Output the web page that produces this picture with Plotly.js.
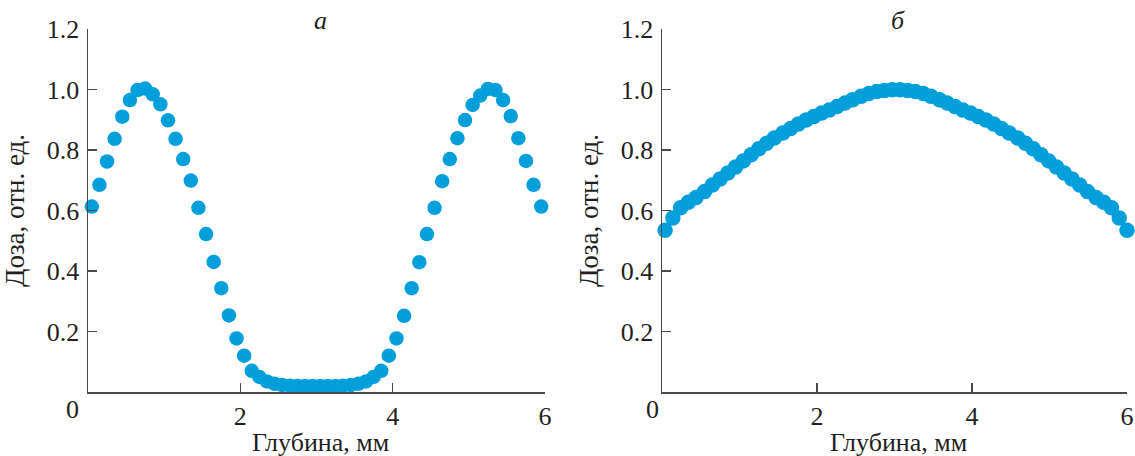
<!DOCTYPE html>
<html>
<head>
<meta charset="utf-8">
<script src="https://cdn.plot.ly/plotly-3.0.1.min.js"></script>
<style>html,body{margin:0;padding:0;background:#fff;}#chart{width:1135px;height:456px;}</style>
</head>
<body>
<div id="chart"></div>
<script>
// Panel "а": depth (mm) and relative dose
const depthA = [0.05,0.15,0.25,0.35,0.45,0.55,0.65,0.75,0.85,0.95,
  1.05,1.15,1.25,1.35,1.45,1.55,1.65,1.75,1.85,1.95,
  2.05,2.15,2.25,2.35,2.45,2.55,2.65,2.75,2.85,2.95,
  3.05,3.15,3.25,3.35,3.45,3.55,3.65,3.75,3.85,3.95,
  4.05,4.15,4.25,4.35,4.45,4.55,4.65,4.75,4.85,4.95,
  5.05,5.15,5.25,5.35,5.45,5.55,5.65,5.75,5.85,5.95];
const doseA = [0.613,0.685,0.762,0.837,0.910,0.965,0.998,1.003,0.984,0.951,
  0.898,0.837,0.770,0.699,0.609,0.522,0.430,0.343,0.253,0.177,
  0.120,0.070,0.050,0.035,0.027,0.023,0.021,0.020,0.020,0.020,
  0.020,0.020,0.020,0.021,0.023,0.027,0.035,0.050,0.070,0.120,
  0.177,0.252,0.343,0.429,0.522,0.609,0.697,0.770,0.839,0.899,
  0.949,0.980,1.002,0.998,0.965,0.912,0.839,0.764,0.685,0.613];

// Panel "б": depth (mm) and relative dose
const depthB = [0.04,0.14,0.24,0.34,0.44,0.55,0.65,0.75,0.85,0.95,
  1.05,1.15,1.25,1.35,1.45,1.56,1.66,1.76,1.86,1.96,
  2.06,2.16,2.26,2.36,2.46,2.57,2.67,2.77,2.87,2.97,
  3.07,3.17,3.27,3.37,3.47,3.58,3.68,3.78,3.88,3.98,
  4.08,4.18,4.28,4.38,4.48,4.59,4.69,4.79,4.89,4.99,
  5.09,5.19,5.29,5.39,5.49,5.60,5.70,5.80,5.90,6.00];
const doseB = [0.535,0.575,0.609,0.627,0.643,0.663,0.684,0.704,0.724,0.744,
  0.764,0.784,0.804,0.822,0.840,0.856,0.871,0.886,0.899,0.911,
  0.922,0.932,0.944,0.955,0.966,0.978,0.987,0.993,0.997,0.999,
  0.999,0.997,0.993,0.987,0.978,0.966,0.955,0.944,0.932,0.922,
  0.911,0.899,0.886,0.871,0.856,0.840,0.822,0.804,0.784,0.764,
  0.744,0.724,0.704,0.684,0.663,0.643,0.627,0.609,0.575,0.535];

const xTickVals = [2, 4, 6];
const xTickText = ['2', '4', '6'];
const yTickVals = [0.2, 0.4, 0.6, 0.8, 1.0, 1.2];
const yTickText = ['0.2', '0.4', '0.6', '0.8', '1.0', '1.2'];
const panelLabels = ['а', 'б'];
const xTitle = 'Глубина, мм';
const yTitle = 'Доза, отн. ед.';

const W = 1135, H = 456;
const dotColor = '#039fdb';
const fontFam = '"Liberation Serif", "DejaVu Serif", serif';
const textColor = '#231f20';
const axisColor = '#4a4a4a';
const FS = 26;
const FT = 26;

const traces = [
  {x: depthA, y: doseA, type: 'scatter', mode: 'markers', marker: {size: 14.5, color: dotColor, line: {width: 0}},
   xaxis: 'x', yaxis: 'y', cliponaxis: false, hoverinfo: 'x+y'},
  {x: depthB, y: doseB, type: 'scatter', mode: 'markers', marker: {size: 15.5, color: dotColor, line: {width: 0}},
   xaxis: 'x2', yaxis: 'y2', cliponaxis: false, hoverinfo: 'x+y'}
];

function xAx(d0, d1, anchor) {
  return {
    domain: [d0 / W, d1 / W], anchor: anchor, range: [0, 6],
    tickvals: xTickVals, ticktext: xTickText,
    ticks: 'inside', ticklen: 9, tickwidth: 1.5, tickcolor: axisColor,
    showline: true, linecolor: axisColor, linewidth: 1.5,
    showgrid: false, zeroline: false, ticklabelstandoff: 0,
    tickfont: {family: fontFam, size: FS, color: textColor}
  };
}
function yAx(anchor) {
  return {
    domain: [1 - 392 / H, 1 - 29 / H], anchor: anchor, range: [0, 1.2],
    tickvals: yTickVals, ticktext: yTickText,
    ticks: 'inside', ticklen: 9, tickwidth: 1.5, tickcolor: axisColor,
    showline: true, linecolor: axisColor, linewidth: 1.5,
    showgrid: false, zeroline: false, ticklabelstandoff: 2,
    tickfont: {family: fontFam, size: FS, color: textColor},
    title: {text: yTitle, font: {family: fontFam, size: 27, color: textColor}, standoff: 14}
  };
}

function txt(text, xref, x, yPix, size, extra) {
  return Object.assign({text: text, xref: xref, yref: 'paper', x: x, y: 1 - yPix / H, showarrow: false,
    font: {family: fontFam, size: size, color: textColor}, xanchor: 'center', yanchor: 'middle'}, extra || {});
}

const layout = {
  width: W, height: H,
  margin: {l: 0, r: 0, t: 0, b: 0},
  paper_bgcolor: '#ffffff', plot_bgcolor: '#ffffff',
  showlegend: false,
  xaxis: xAx(88, 545, 'y'),
  yaxis: yAx('x'),
  xaxis2: xAx(662, 1127, 'y2'),
  yaxis2: yAx('x2'),
  annotations: [
    txt(panelLabels[0], 'x domain', 0.5, 20, FS, {xshift: 4, font: {family: fontFam, size: FS, color: textColor, style: 'italic'}}),
    txt(panelLabels[1], 'x2 domain', 0.5, 20, FS, {xshift: 3, font: {family: fontFam, size: FS, color: textColor, style: 'italic'}}),
    txt('0', 'paper', 72 / W, 409, FS),
    txt('0', 'paper', 652 / W, 409, FS),
    txt(xTitle, 'x domain', 0.5, 442, FT, {xshift: 4}),
    txt(xTitle, 'x2 domain', 0.5, 442, FT, {xshift: 4})
  ]
};

Plotly.newPlot('chart', traces, layout, {displayModeBar: false, staticPlot: true});
</script>
</body>
</html>
